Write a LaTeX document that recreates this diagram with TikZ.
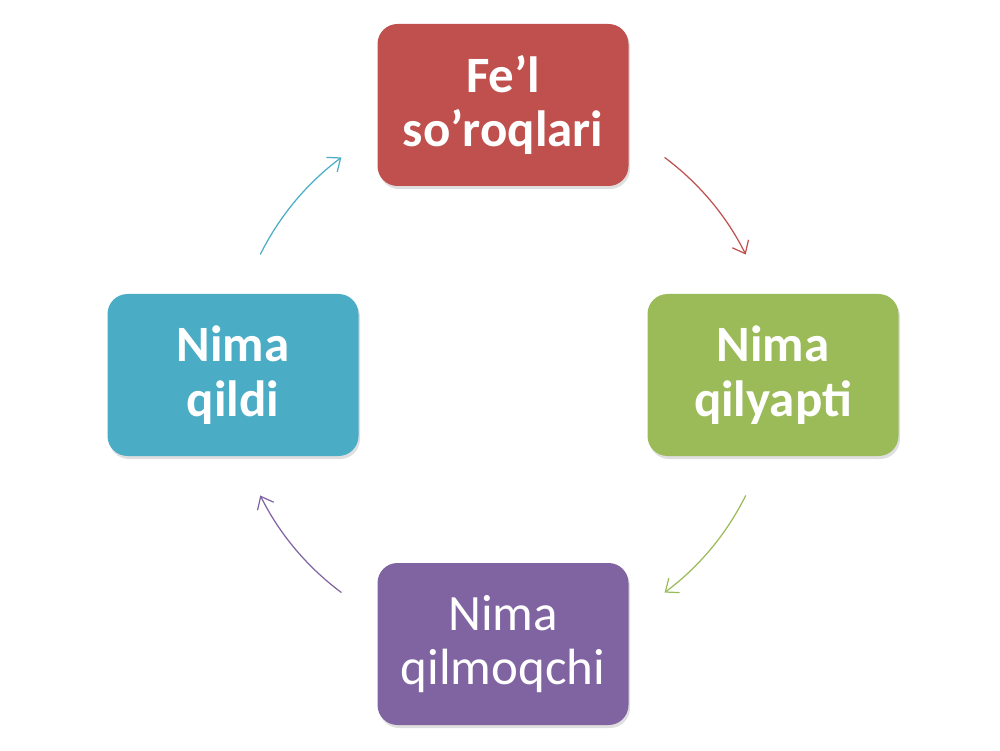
\documentclass[tikz,border=0pt]{standalone}
\usepackage{fontspec}
\setmainfont{Carlito}
\usetikzlibrary{arrows.meta,shadows}
\definecolor{felred}{HTML}{C0504D}
\definecolor{felgreen}{HTML}{9BBB59}
\definecolor{felblue}{HTML}{4BACC6}
\definecolor{felpurple}{HTML}{8064A2}
\tikzset{
  savol/.style={rounded corners=0.4cm, minimum width=5.02cm, minimum height=3.24cm,
    text=white, align=center, font=\fontsize{29}{31}\selectfont,
    drop shadow={shadow xshift=0.03cm, shadow yshift=-0.06cm, opacity=0.25}},
  halqa/.style={-{Straight Barb[length=2.2mm,width=3.6mm]}, line width=0.7pt}
}
\begin{document}
\begin{tikzpicture}
    \useasboundingbox (0,0) rectangle (20,15);
    \coordinate (markaz) at (10.06,7.5);

    \node[savol, fill=felred, font=\fontsize{29}{31}\selectfont\bfseries] (fel) at (10.06,12.9) {Fe’l\\so’roqlari};
    \node[savol, fill=felgreen, font=\fontsize{29}{31}\selectfont\bfseries] (qilyapti) at (15.46,7.5) {Nima\\qilyapti};
    \node[savol, fill=felpurple] (qilmoqchi) at (10.06,2.12) {Nima\\qilmoqchi};
    \node[savol, fill=felblue, font=\fontsize{29}{31}\selectfont\bfseries] (qildi) at (4.66,7.5) {Nima\\qildi};

    \draw[halqa, felred] ([shift={(53.4:5.42)}]markaz) arc[start angle=53.4, end angle=26.4, radius=5.42];
    \draw[halqa, felgreen] ([shift={(-26.4:5.42)}]markaz) arc[start angle=-26.4, end angle=-53.4, radius=5.42];
    \draw[halqa, felpurple] ([shift={(-126.6:5.42)}]markaz) arc[start angle=-126.6, end angle=-153.6, radius=5.42];
    \draw[halqa, felblue] ([shift={(153.6:5.42)}]markaz) arc[start angle=153.6, end angle=126.6, radius=5.42];
\end{tikzpicture}
\end{document}
